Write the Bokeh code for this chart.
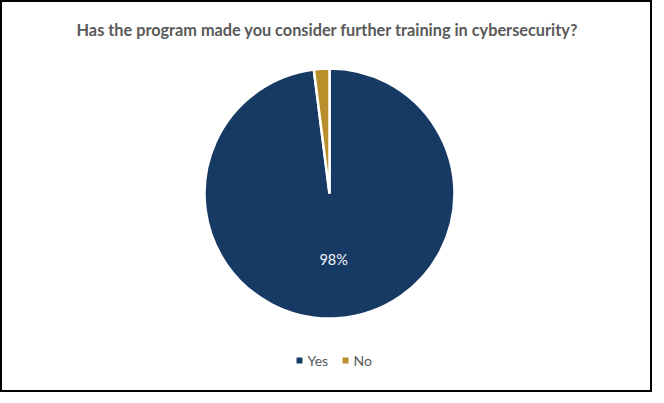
import math
from bokeh.plotting import figure
from bokeh.models import Range1d
from bokeh.core.properties import value
from bokeh.embed import file_html
from bokeh.resources import INLINE

title = "Has the program made you consider further training in cybersecurity?"
categories = ["Yes", "No"]
shares = [98, 2]
colors = ["#173A64", "#B98F2C"]

W, H = 652, 392
p = figure(width=W, height=H, output_backend="svg", toolbar_location=None,
           x_range=Range1d(0, W), y_range=Range1d(0, H), min_border=0)
p.axis.visible = False
p.grid.visible = False
p.outline_line_color = "black"
p.outline_line_width = 3
p.background_fill_color = "white"
p.border_fill_color = "white"

cx, cy, r = 329, 199, 125
total = sum(shares)
start = math.pi / 2
starts, ends = [], []
for s in shares:
    e = start - 2 * math.pi * s / total
    starts.append(start)
    ends.append(e)
    start = e

p.wedge(x=[cx] * len(shares), y=[cy] * len(shares), radius=r,
        start_angle=starts, end_angle=ends, direction="clock",
        fill_color=colors, line_color="white", line_width=2.5)

# data label on the largest slice
mid = (starts[0] + ends[0]) / 2
lx = cx + 0.53 * r * math.cos(mid)
ly = cy + 0.53 * r * math.sin(mid)
p.text(x=[lx], y=[ly], text=[f"{round(100 * shares[0] / total)}%"],
       text_color="#F2F4F8", text_font=value("Lato"), text_font_size="14.5px",
       text_align="center", text_baseline="middle")

p.text(x=[327], y=[363], text=[title], text_color="#595959",
       text_font=value("Lato"), text_font_style="bold", text_font_size="16.3px",
       text_align="center", text_baseline="middle")

# legend
leg_x = [299, 345]
leg_y = 32
p.scatter(x=leg_x, y=[leg_y] * 2, marker="square", size=6, fill_color=colors, line_color=None)
p.text(x=[x + 8 for x in leg_x], y=[leg_y] * 2, text=categories, text_color="#595959",
       text_font=value("Lato"), text_font_size="14px",
       text_align="left", text_baseline="middle")

open("out.html", "w").write(file_html(p, INLINE))
